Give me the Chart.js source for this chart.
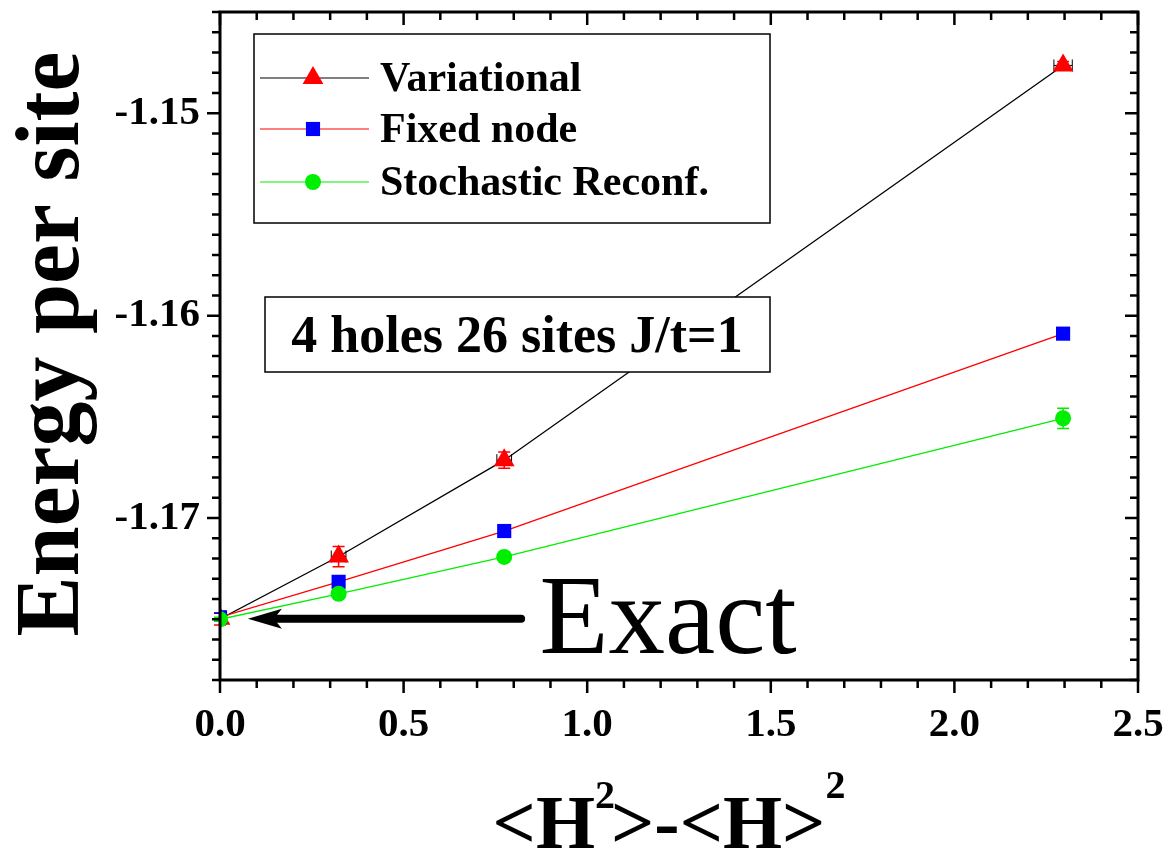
<!DOCTYPE html>
<html lang="en">
<head>
    <meta charset="UTF-8">
    <title>Energy per site vs variance</title>
    <script src="https://cdn.jsdelivr.net/npm/chart.js"></script>
    <style>
        * { margin: 0; padding: 0; box-sizing: border-box; }
        body { background: #fff; width: 1166px; height: 852px; overflow: hidden; }
        canvas { display: block; }
    </style>
</head>
<body>
    <canvas id="energyChart" width="1166" height="852"></canvas>

    <script>
        // variance <H^2>-<H>^2 of each wave function
        const variance = [0, 0.323, 0.774, 2.296];

        const variational = [-1.17498, -1.17190, -1.16714, -1.14764];
        const fixedNode = [-1.17490, -1.17315, -1.17064, -1.16089];
        const stochastic = [-1.17500, -1.17374, -1.17192, -1.16507];

        // error bars
        const variationalErrY = [0.0003, 0.0005, 0.0004, 0.0002];
        const variationalErrX = [0, 0.02, 0.02, 0.025];
        const fixedNodeErrY = [0.0002, 0.0002, 0.0002, 0.0002];
        const stochasticErrY = [0.0001, 0.0001, 0.0001, 0.0005];

        const xTicks = [0, 0.5, 1.0, 1.5, 2.0, 2.5];
        const yTicks = [-1.17, -1.16, -1.15];
        const exactEnergy = -1.17498;

        const serif = "'Liberation Serif', 'Times New Roman', serif";

        function points(ys) {
            return variance.map((x, i) => ({ x: x, y: ys[i] }));
        }

        // frame, inward/outward ticks, error bars and text annotations
        const decorations = {
            id: 'decorations',
            beforeDatasetsDraw(chart) {
                const { ctx, scales: { x, y } } = chart;
                const sets = [
                    { ys: variational, ey: variationalErrY, ex: variationalErrX, color: '#ff0000' },
                    { ys: fixedNode, ey: fixedNodeErrY, ex: null, color: '#0000ff' },
                    { ys: stochastic, ey: stochasticErrY, ex: null, color: '#00ee00' }
                ];
                ctx.save();
                ctx.lineWidth = 1.5;
                sets.forEach(s => {
                    ctx.strokeStyle = s.color;
                    s.ys.forEach((v, i) => {
                        const px = x.getPixelForValue(variance[i]);
                        const y1 = y.getPixelForValue(v - s.ey[i]);
                        const y2 = y.getPixelForValue(v + s.ey[i]);
                        ctx.beginPath();
                        ctx.moveTo(px, y1); ctx.lineTo(px, y2);
                        ctx.moveTo(px - 6, y1); ctx.lineTo(px + 6, y1);
                        ctx.moveTo(px - 6, y2); ctx.lineTo(px + 6, y2);
                        ctx.stroke();
                        if (s.ex && s.ex[i] > 0) {
                            const x1 = x.getPixelForValue(variance[i] - s.ex[i]);
                            const x2 = x.getPixelForValue(variance[i] + s.ex[i]);
                            const py = y.getPixelForValue(v);
                            ctx.strokeStyle = '#000';
                            ctx.lineWidth = 1;
                            ctx.beginPath();
                            ctx.moveTo(x1, py); ctx.lineTo(x2, py);
                            ctx.moveTo(x1, py - 6); ctx.lineTo(x1, py + 6);
                            ctx.moveTo(x2, py - 6); ctx.lineTo(x2, py + 6);
                            ctx.stroke();
                            ctx.strokeStyle = s.color;
                            ctx.lineWidth = 1.5;
                        }
                    });
                });
                ctx.restore();
            },
            afterDraw(chart) {
                const { ctx, chartArea: a, scales: { x, y } } = chart;
                ctx.save();

                // frame
                ctx.strokeStyle = '#000';
                ctx.lineWidth = 3;
                ctx.strokeRect(a.left, a.top, a.right - a.left, a.bottom - a.top);

                // x ticks (bottom outward, top inward)
                ctx.lineWidth = 2.5;
                for (let k = 0; k <= 25; k++) {
                    const v = k / 10;
                    const px = x.getPixelForValue(v);
                    const len = k % 5 === 0 ? 13 : 8;
                    ctx.beginPath();
                    ctx.moveTo(px, a.bottom); ctx.lineTo(px, a.bottom + len);
                    ctx.moveTo(px, a.top); ctx.lineTo(px, a.top + len);
                    ctx.stroke();
                }
                // y ticks (left outward, right inward)
                for (let k = -1178; k <= -1145; k++) {
                    const v = k / 1000;
                    const py = y.getPixelForValue(v);
                    const len = k % 10 === 0 ? 13 : 8;
                    ctx.beginPath();
                    ctx.moveTo(a.left, py); ctx.lineTo(a.left - len, py);
                    ctx.moveTo(a.right, py); ctx.lineTo(a.right - len, py);
                    ctx.stroke();
                }

                // legend box
                ctx.lineWidth = 1.5;
                ctx.strokeRect(254, 34, 516, 189);
                const legendRows = [
                    { label: 'Variational', line: '#000000', ds: 2, y: 78 },
                    { label: 'Fixed node', line: '#ff0000', ds: 1, y: 129 },
                    { label: 'Stochastic Reconf.', line: '#00ee00', ds: 0, y: 182 }
                ];
                legendRows.forEach(r => {
                    ctx.strokeStyle = r.line;
                    ctx.lineWidth = 1.2;
                    ctx.beginPath();
                    ctx.moveTo(260, r.y); ctx.lineTo(369, r.y);
                    ctx.stroke();
                    const d = chart.data.datasets[r.ds];
                    ctx.fillStyle = d.pointBackgroundColor;
                    Chart.helpers.drawPoint(ctx, {
                        pointStyle: d.pointStyle, radius: d.pointRadius, rotation: 0, borderWidth: 0
                    }, 313, r.y);
                    ctx.fillStyle = '#000';
                    ctx.font = 'bold 42px ' + serif;
                    ctx.textBaseline = 'middle';
                    ctx.textAlign = 'left';
                    ctx.fillText(r.label, 380, r.y + 2);
                });

                // system label box
                ctx.strokeStyle = '#000';
                ctx.lineWidth = 1.5;
                ctx.fillStyle = '#fff';
                ctx.fillRect(265, 297, 505, 75);
                ctx.strokeRect(265, 297, 505, 75);
                ctx.fillStyle = '#000';
                ctx.font = 'bold 52px ' + serif;
                ctx.textAlign = 'center';
                ctx.textBaseline = 'alphabetic';
                ctx.fillText('4 holes 26 sites J/t=1', 517, 352);

                // arrow to the exact energy
                const ay = y.getPixelForValue(exactEnergy);
                const tip = x.getPixelForValue(0.076);
                const tail = x.getPixelForValue(0.82);
                ctx.lineWidth = 8;
                ctx.lineCap = 'round';
                ctx.beginPath();
                ctx.moveTo(tail, ay); ctx.lineTo(tip + 28, ay);
                ctx.stroke();
                ctx.beginPath();
                ctx.moveTo(tip, ay);
                ctx.lineTo(tip + 34, ay - 10);
                ctx.lineTo(tip + 26, ay);
                ctx.lineTo(tip + 34, ay + 10);
                ctx.closePath();
                ctx.fill();

                ctx.font = '113px ' + serif;
                ctx.textAlign = 'left';
                ctx.fillText('Exact', x.getPixelForValue(0.87), ay + 34);

                // y axis title
                ctx.save();
                ctx.translate(78, 344);
                ctx.rotate(-Math.PI / 2);
                ctx.font = 'bold 90px ' + serif;
                ctx.textAlign = 'center';
                ctx.fillText('Energy per site', 0, 0);
                ctx.restore();

                // x axis title <H^2>-<H>^2
                const big = 'bold 76px ' + serif;
                const sup = 'bold 40px ' + serif;
                const parts = [
                    { t: '<H', f: big, dy: 0 },
                    { t: '2', f: sup, dy: -40 },
                    { t: '>-<H>', f: big, dy: 0 },
                    { t: '2', f: sup, dy: -50 }
                ];
                let total = 0;
                parts.forEach(p => { ctx.font = p.f; p.w = ctx.measureText(p.t).width; total += p.w; });
                let cx = 671 - total / 2;
                const base = 848;
                ctx.textAlign = 'left';
                parts.forEach(p => {
                    ctx.font = p.f;
                    ctx.fillText(p.t, cx, base + p.dy);
                    cx += p.w + (p.t === '2' && p.dy === -40 ? -4 : 0);
                });

                ctx.restore();
            }
        };

        new Chart(document.getElementById('energyChart'), {
            type: 'scatter',
            data: {
                datasets: [
                    {
                        label: 'Stochastic Reconf.',
                        data: points(stochastic),
                        showLine: true,
                        borderColor: '#00ee00',
                        borderWidth: 1.3,
                        pointStyle: 'circle',
                        pointRadius: 8,
                        pointBackgroundColor: '#00ee00',
                        pointBorderWidth: 0
                    },
                    {
                        label: 'Fixed node',
                        data: points(fixedNode),
                        showLine: true,
                        borderColor: '#ff0000',
                        borderWidth: 1.3,
                        pointStyle: 'rect',
                        pointRadius: 10,
                        pointBackgroundColor: '#0000ff',
                        pointBorderWidth: 0
                    },
                    {
                        label: 'Variational',
                        data: points(variational),
                        showLine: true,
                        borderColor: '#000000',
                        borderWidth: 1.3,
                        pointStyle: 'triangle',
                        pointRadius: 12,
                        pointBackgroundColor: '#ff0000',
                        pointBorderWidth: 0
                    }
                ]
            },
            options: {
                responsive: false,
                animation: false,
                layout: { padding: { left: 0, top: 10, right: 28, bottom: 0 } },
                plugins: {
                    legend: { display: false },
                    tooltip: { enabled: false }
                },
                scales: {
                    x: {
                        type: 'linear',
                        min: 0,
                        max: 2.5,
                        grid: { display: false, drawTicks: false },
                        border: { display: false },
                        afterFit: s => { s.height = 172; s.paddingLeft = 0; s.paddingRight = 0; },
                        afterBuildTicks: s => { s.ticks = xTicks.map(v => ({ value: v })); },
                        ticks: {
                            padding: 21,
                            color: '#000',
                            font: { family: serif, size: 41, weight: 'bold' },
                            maxRotation: 0,
                            callback: v => v.toFixed(1)
                        }
                    },
                    y: {
                        type: 'linear',
                        min: -1.178,
                        max: -1.145,
                        grid: { display: false, drawTicks: false },
                        border: { display: false },
                        afterFit: s => { s.width = 220; s.paddingTop = 0; s.paddingBottom = 0; },
                        afterBuildTicks: s => { s.ticks = yTicks.map(v => ({ value: v })); },
                        ticks: {
                            padding: 20,
                            color: '#000',
                            font: { family: serif, size: 41, weight: 'bold' },
                            callback: v => v.toFixed(2)
                        }
                    }
                }
            },
            plugins: [decorations]
        });
    </script>
</body>
</html>
